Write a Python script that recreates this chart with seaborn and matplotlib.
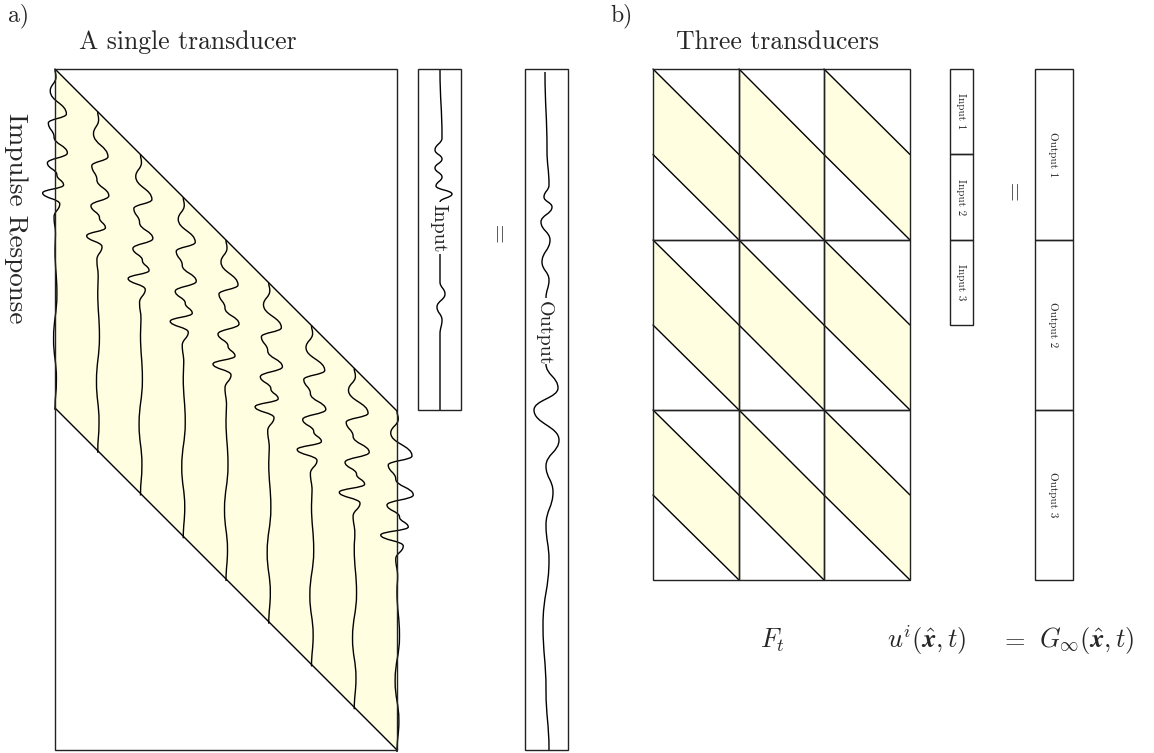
import matplotlib
matplotlib.use("Agg")
import matplotlib.pyplot as plt
from matplotlib.path import Path
from matplotlib.patches import PathPatch, Polygon, Rectangle
import pandas as pd
import seaborn as sns

# ---------------------------------------------------------------- layout data
# panel a: convolution matrix of a single transducer (pixel units)
mat_x = [55, 397]
mat_y = [69, 750]
n_traces = 9
trace_amp = [0.95, 0.85, 0.95, 1.0, 1.0, 1.05, 1.1, 1.15, 1.25]

# impulse response wavelet: knots (depth below the diagonal, lateral offset)
wavelet_dy = [0, 8, 22, 45, 54, 68, 84, 94, 106, 116, 124, 135, 148, 165, 180,
              225, 270, 310, 341]
wavelet_dx = [0, 1, -5, 12, -7, -1, 13, -8, 2, 9, -13, 5, -1, 0.5, 0,
              2, -1.5, 1.5, 0]

# input vector
in_box_x = [418, 461]
in_box_y = [69, 410]
in_base = 440
in_top_y = [70, 138, 150, 159, 168, 177, 186, 194, 202]
in_top_dx = [0, 2, -5, 2, -5, 2, -4, 12, 0]
in_bot_y = [254, 282, 294, 307, 320, 334, 410]
in_bot_dx = [0, 0, 5, -3, 2, 0, 0]
in_label_y = 228

# output vector
out_box_x = [525, 568]
out_box_y = [69, 750]
out_base = 546
out_top_y = [72, 150, 185, 197, 207, 222, 240, 262, 280, 298]
out_top_dx = [-1, 1, 3, -2, 6, -5, 4, -4, 3, 0]
out_bot_y = [364, 388, 410, 440, 466, 492, 525, 560, 625, 690, 750]
out_bot_dx = [0, 12, -12, 13, 0, 7, 0, 3, -3, 0, 3]
out_label_y = 333

# panel b: block matrix for three transducers
grid_x = [653, 739, 824, 910]
grid_y = [69, 240, 410, 580]
in3_x = [950, 973]
in3_y = [69, 154, 240, 325]
out3_x = [1035, 1073]
out3_y = [69, 240, 410, 580]
in3_labels = ["Input 1", "Input 2", "Input 3"]
out3_labels = ["Output 1", "Output 2", "Output 3"]

FILL = "#FFFEE0"
EDGE = "#222222"

# ---------------------------------------------------------------- style
sns.set_theme(style="white")
plt.rcParams["font.family"] = ["cmr10", "DejaVu Serif"]
plt.rcParams["mathtext.fontset"] = "cm"
plt.rcParams["axes.unicode_minus"] = False

fig = plt.figure(figsize=(11.54, 7.53), dpi=100)
ax = fig.add_axes([0, 0, 1, 1])
ax.set_xlim(0, 1154)
ax.set_ylim(753, 0)
ax.axis("off")


def wiggle(xs, ys, lw=1.0, tension=0.45):
    """Smooth vertical trace through knots with vertical tangents."""
    verts = [(xs[0], ys[0])]
    codes = [Path.MOVETO]
    for i in range(len(xs) - 1):
        d = ys[i + 1] - ys[i]
        verts += [(xs[i], ys[i] + tension * d),
                  (xs[i + 1], ys[i + 1] - tension * d),
                  (xs[i + 1], ys[i + 1])]
        codes += [Path.CURVE4] * 3
    ax.add_patch(PathPatch(Path(verts, codes), fill=False, lw=lw,
                           edgecolor="black", zorder=4))


def box(x0, x1, y0, y1, lw=1.0):
    ax.add_patch(Rectangle((x0, y0), x1 - x0, y1 - y0, fill=False,
                           edgecolor=EDGE, lw=lw, zorder=5))


segments = []


def seg(x0, y0, x1, y1):
    k = len(segments)
    segments.append({"seg": k, "x": x0, "y": y0})
    segments.append({"seg": k, "x": x1, "y": y1})


def vlabel(x, y, s, size):
    ax.text(x, y, s, rotation=270, rotation_mode="anchor", ha="center",
            va="center_baseline", fontsize=size, zorder=6)


# ---------------------------------------------------------------- panel a
x0, x1 = mat_x
y0, y1 = mat_y
w = x1 - x0
band = y1 - y0 - w
ax.add_patch(Polygon([(x0, y0), (x1, y0 + w), (x1, y1), (x0, y0 + band)],
                     closed=True, facecolor=FILL, edgecolor="none", zorder=1))
seg(x0, y0, x1, y0 + w)
seg(x0, y0 + band, x1, y1)
box(x0, x1, y0, y1)

for k in range(n_traces):
    tx = x0 + k * w / (n_traces - 1)
    ty = y0 + (tx - x0)
    a = trace_amp[k]
    wiggle([tx + a * d for d in wavelet_dx], [ty + d for d in wavelet_dy])

# input vector
box(in_box_x[0], in_box_x[1], in_box_y[0], in_box_y[1])
wiggle([in_base + d for d in in_top_dx], in_top_y)
wiggle([in_base + d for d in in_bot_dx], in_bot_y)
vlabel(in_base, in_label_y, "Input", 14.5)

# output vector
box(out_box_x[0], out_box_x[1], out_box_y[0], out_box_y[1])
wiggle([out_base + d for d in out_top_dx], out_top_y)
wiggle([out_base + d for d in out_bot_dx], out_bot_y)
vlabel(out_base, out_label_y, "Output", 14.5)

ax.text(500, 232, "=", rotation=90, ha="center", va="center", fontsize=18)
vlabel(18, 218, "Impulse Response", 19.5)
ax.text(8, 16, "a)", ha="left", va="center", fontsize=17)
ax.text(79, 42, "A single transducer", ha="left", va="center", fontsize=18.5)

# ---------------------------------------------------------------- panel b
for i in range(3):
    for j in range(3):
        cx0, cx1 = grid_x[j], grid_x[j + 1]
        cy0, cy1 = grid_y[i], grid_y[i + 1]
        mid = (cy0 + cy1) / 2
        ax.add_patch(Polygon([(cx0, cy0), (cx1, mid), (cx1, cy1), (cx0, mid)],
                             closed=True, facecolor=FILL, edgecolor="none",
                             zorder=1))
        seg(cx0, cy0, cx1, mid)
        seg(cx0, mid, cx1, cy1)
        box(cx0, cx1, cy0, cy1)

for i in range(3):
    box(in3_x[0], in3_x[1], in3_y[i], in3_y[i + 1])
    vlabel(sum(in3_x) / 2, (in3_y[i] + in3_y[i + 1]) / 2, in3_labels[i], 8)
    box(out3_x[0], out3_x[1], out3_y[i], out3_y[i + 1])
    vlabel(sum(out3_x) / 2, (out3_y[i] + out3_y[i + 1]) / 2, out3_labels[i], 8)

ax.text(1015, 190, "=", rotation=90, ha="center", va="center", fontsize=18)
ax.text(610, 16, "b)", ha="left", va="center", fontsize=17)
ax.text(676, 42, "Three transducers", ha="left", va="center", fontsize=18.5)

ax.text(773, 640, r"$F_t$", ha="center", va="center", fontsize=19)
ax.text(927, 640, r"$u^i(\hat{\boldsymbol{x}},t)$", ha="center", va="center",
        fontsize=19)
ax.text(1013, 640, r"$=$", ha="center", va="center", fontsize=19)
ax.text(1087, 640, r"$G_\infty(\hat{\boldsymbol{x}},t)$", ha="center",
        va="center", fontsize=19)

# diagonal edges of every shaded band
sns.lineplot(data=pd.DataFrame(segments), x="x", y="y", units="seg",
             estimator=None, sort=False, color="black", lw=1.0, ax=ax,
             legend=False, zorder=3)
ax.set_xlim(0, 1154)
ax.set_ylim(753, 0)
ax.axis("off")

fig.savefig("out.png", dpi=100, facecolor="white")
